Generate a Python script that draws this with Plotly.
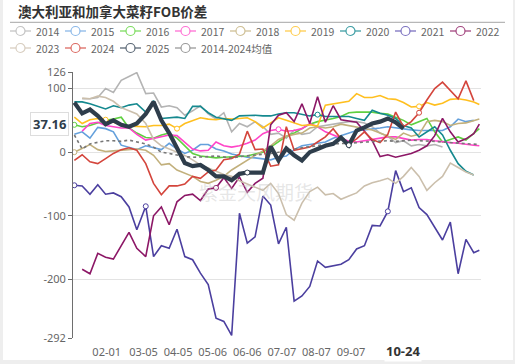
import plotly.graph_objects as go

# ---------------- data ----------------
WEEKS = ["01-03","01-10","01-17","01-24","01-31","02-07","02-14","02-21","02-28","03-07",
         "03-14","03-21","03-28","04-04","04-11","04-18","04-25","05-02","05-09","05-16",
         "05-23","05-30","06-06","06-13","06-20","06-27","07-04","07-11","07-18","07-25",
         "08-01","08-08","08-15","08-22","08-29","09-05","09-12","09-19","09-26","10-03",
         "10-10","10-17","10-24","10-31","11-07","11-14","11-21","11-28","12-05","12-12",
         "12-19","12-26","12-31"]

TICK_DATES = ["02-01","03-05","04-05","05-06","06-06","07-07","08-07","09-07","10-08","11-08"]
TICK_LABELS = ["02-01","03-05","04-05","05-06","06-06","07-07","08-07","09-07","",""]

N = None
Y2014 = [N,84,84,86,100,94,113,119,125,92,93,71,73,70,58,65,73,60,52,62,32,45,40,48,40,28,30,22,35,28,
         30,40,42,44,46,48,48,46,40,30,25,15,18,10,12,10,12,8,N,N,N,N,N]
Y2015 = [28,32,22,39,37,32,11,8,4,10,7,4,14,5,-2,3,12,12,5,2,-3,-6,-8,-9,-10,-12,-8,-6,4,10,
         12,14,16,22,26,30,34,35,36,38,40,38,36,35,34,34,34,34,40,52,48,50,N]
Y2016 = [43,40,42,46,50,52,55,38,30,23,22,27,30,22,10,-2,-6,-8,-9,-8,-7,-7,-6,-3,0,8,16,25,30,37,
         44,48,50,53,56,62,63,63,63,61,60,55,50,43,48,53,32,16,20,24,19,30,37]
Y2017 = [N,33,45,47,42,40,38,38,28,19,22,24,27,26,16,5,2,3,16,10,8,10,14,19,29,34,36,33,34,37,
         45,40,32,27,22,17,16,18,19,22,24,24,22,19,20,20,18,16,15,14,13,11,10]
Y2018 = [0,6,12,4,1,2,3,4,5,3,-5,-20,-18,-28,-33,-38,-46,-49,-44,-38,-28,-20,-12,-5,2,10,20,25,28,30,
         38,40,38,40,44,42,40,38,35,30,25,20,30,25,28,48,50,48,42,45,46,50,52]
Y2019 = [55,45,51,53,51,47,43,41,40,40,42,42,44,37,45,50,54,52,51,53,52,53,54,48,38,46,54,50,46,42,
         43,41,74,76,79,80,92,86,86,89,84,83,78,71,72,78,74,77,83,84,82,79,75]
Y2020 = [79,79,76,72,68,73,70,74,76,63,81,53,54,55,53,72,72,62,55,52,50,57,58,58,57,57,60,62,62,60,
         57,59,56,56,56,56,53,50,66,61,58,53,42,38,24,32,40,27,3,-18,-30,-36,N]
Y2021 = [-52,-53,-66,-51,-66,-64,-70,-86,-122,-85,-164,-147,-151,-121,-164,-169,-190,-208,-261,-266,
         -288,-96,-143,-133,-69,-83,-144,-118,-234,-226,-211,-171,-181,-179,-176,-169,-152,-147,-115,-116,
         -93,-29,-62,-56,-87,-98,-117,-138,-110,-191,-137,-158,-154]
Y2022 = [N,-184,-191,-159,-165,-168,-148,-126,-151,-164,-100,-86,-114,-78,-68,-66,-76,-58,-56,-40,
         -57,-39,-63,-49,-41,43,58,62,48,76,45,87,47,73,51,49,47,33,18,-7,-4,-8,-5,-2,3,10,26,53,32,16,
         21,29,44]
Y2023 = [N,85,84,88,86,80,70,65,60,45,20,10,5,0,-5,-12,-20,-25,-30,-35,-38,-45,-50,-55,-60,-49,-65,
         -98,-107,-80,-62,-55,-67,-65,-74,-69,-64,-53,-48,-45,-41,-49,-38,-24,-38,-60,-48,-38,-17,-24,
         -31,-36,N]
Y2024 = [-13,-4,-15,-18,-10,-2,4,7,3,-18,-49,-67,-53,-53,-50,-38,-41,-31,-28,-12,-10,-3,33,4,5,-22,-20,
         40,3,5,8,16,24,37,21,13,21,32,20,15,28,63,40,48,62,82,100,110,97,84,112,81,N]
Y2025 = [78,61,67,57,44,50,43,40,45,60,79,50,30,5,-17,-22,-20,-28,-38,-38,-44,-34,-32,-32,-32,9,-13,6,
         -5,-13,0,5,10,13,23,11,34,39,45,48,53,47,37.16]
YAVG = [27,5,13,16,18,18,17,19,16,13,8,0,-2,-5,-7,-8,-8,-7,-6,-8,-9,-7,-6,-5,-3,-2,0,3,5,7,9,10,12,
        13,13,14,15,16,17,18,18,17,18,19,18,18,17,16,15,14,13,13,12]

NAMES = ["2014","2015","2016","2017","2018","2019","2020","2021","2022","2023","2024","2025","2014-2024均值"]
VALUES = [Y2014,Y2015,Y2016,Y2017,Y2018,Y2019,Y2020,Y2021,Y2022,Y2023,Y2024,Y2025,YAVG]
COLORS = ["#b4b4b4","#64a0dc","#5fd040","#ff45c8","#c2b07c","#ffbf1f","#15898f","#4b3f9f",
          "#8c1766","#cbbfac","#d4453c","#2e3d4b","#777777"]
LEG_COLORS = ["#c4c4c4","#8bb8e8","#7ddc60","#ff70d4","#cfc096","#ffcd50","#3f9ea4","#7c72c0",
              "#a3467f","#d8cec0","#dc6a62","#5a6775","#9a9a9a"]
SYMBOLS = {"2016":[0],"2018":[0],"2019":[4,13,44],"2020":[31],"2021":[0,9,40],"2022":[18],
           "2017":[26],"2024":[44],"2025":[22,35]}

# ---------------- geometry helpers (pixel -> paper) ----------------
W, H = 515, 364
L, R, T, B = 73, 34, 72, 26
PW, PH = W - L - R, H - T - B
def px(x): return (x - L) / PW
def py(y): return (H - B - y) / PH

def xdate(md): return "2000-" + md

fig = go.Figure()
order = [0,1,2,3,4,5,6,7,8,9,10,12,11]
for i in order:
    name, vals, col = NAMES[i], VALUES[i], COLORS[i]
    xs = [xdate(d) for d in WEEKS[:len(vals)]]
    if name == "2025":
        line = dict(color=col, width=4.2)
    elif i == 12:
        line = dict(color=col, width=1.6, dash="dot")
    else:
        line = dict(color=col, width=1.6)
    fig.add_trace(go.Scatter(x=xs, y=vals, mode="lines", line=line, name=name,
                             connectgaps=False, showlegend=False, hoverinfo="skip"))
    if name in SYMBOLS:
        idx = SYMBOLS[name]
        fig.add_trace(go.Scatter(x=[xs[j] for j in idx], y=[vals[j] for j in idx], mode="markers",
                                 marker=dict(symbol="circle", size=5, color="white",
                                             line=dict(color=col, width=1)),
                                 showlegend=False, hoverinfo="skip"))

shapes = []
annotations = []
shapes.append(dict(type="rect", xref="paper", yref="paper", x0=px(3), x1=px(513), y0=py(0), y1=py(360),
                   fillcolor="white", line=dict(width=0), layer="below"))
annotations.append(dict(text="<b>澳大利亚和加拿大菜籽FOB价差</b>", xref="paper", yref="paper",
                        x=px(16), y=py(11), xanchor="left", yanchor="middle", showarrow=False,
                        font=dict(size=13.5, color="#333333", family="Noto Sans CJK SC")))
shapes.append(dict(type="line", xref="paper", yref="paper", x0=px(10), x1=px(505), y0=py(22.3), y1=py(22.3),
                   line=dict(color="#a6a6a6", width=1)))
for j, name in enumerate(NAMES):
    row, col = divmod(j, 9)
    x0 = 10 + 55 * col
    yc = 31 + 17 * row
    c = LEG_COLORS[j]
    shapes.append(dict(type="line", xref="paper", yref="paper", x0=px(x0), x1=px(x0 + 21),
                       y0=py(yc), y1=py(yc), line=dict(color=c, width=1.3)))
    shapes.append(dict(type="circle", xref="paper", yref="paper", x0=px(x0 + 6), x1=px(x0 + 15),
                       y0=py(yc - 4.5), y1=py(yc + 4.5), fillcolor="white", line=dict(color=c, width=1.2)))
    annotations.append(dict(text=name, xref="paper", yref="paper", x=px(x0 + 24), y=py(yc),
                            xanchor="left", yanchor="middle", showarrow=False,
                            font=dict(size=10.5, color="#666666", family="Noto Sans CJK SC")))
annotations.append(dict(text="紫金天风期货", xref="paper", yref="paper", x=px(256), y=py(191),
                        xanchor="center", yanchor="middle", showarrow=False,
                        font=dict(size=19, color="rgba(200,200,200,0.45)", family="Noto Sans CJK SC")))
annotations.append(dict(text="<b>37.16</b>", xref="paper", yref="paper", x=px(68.5), y=py(123.7),
                        xanchor="right", yanchor="middle", showarrow=False, bgcolor="white",
                        bordercolor="#dddddd", borderwidth=1, borderpad=2,
                        font=dict(size=13, color="#2e3d4b", family="Noto Sans")))
annotations.append(dict(text="<b>10-24</b>", xref="x", yref="paper", x=xdate("10-24"), y=py(351),
                        xanchor="center", yanchor="middle", showarrow=False, bgcolor="white",
                        font=dict(size=13, color="#333333", family="Noto Sans")))

tickvals = [xdate(t) for t in TICK_DATES]
xr = ["2000-01-01 19:00", "2001-01-01 12:00"]
YT = [-292, -200, -100, 0, 100, 126]
fig.update_layout(
    width=W, height=H, margin=dict(l=L, r=R, t=T, b=B, autoexpand=False),
    paper_bgcolor="#eeeeee", plot_bgcolor="white",
    font=dict(family="Noto Sans, Noto Sans CJK SC", size=11, color="#666666"),
    showlegend=False, shapes=shapes, annotations=annotations,
    xaxis=dict(type="date", range=xr, tickvals=tickvals, ticktext=TICK_LABELS, showgrid=False,
               zeroline=False, showline=False, ticks="", tickfont=dict(size=11, color="#666666"),
               ticklabelstandoff=6, automargin=False),
    xaxis2=dict(type="date", range=xr, overlaying="x", anchor="free", position=292/418, side="bottom",
                tickvals=tickvals, showticklabels=False, ticks="outside", ticklen=4, tickcolor="#6e6e6e",
                showline=True, linecolor="#6e6e6e", linewidth=1, showgrid=False, zeroline=False,
                automargin=False),
    yaxis=dict(range=[-292, 126], tickvals=YT, ticktext=[str(v) for v in YT], showgrid=True,
               gridcolor="#e3e3e3", zeroline=False, showline=True, linecolor="#6e6e6e",
               ticks="outside", ticklen=4, tickcolor="#6e6e6e", tickfont=dict(size=11, color="#666666"),
               automargin=False),
)
fig.write_html("out.html", config={"displayModeBar": False},
               post_script="document.body.style.margin='0';document.body.style.padding='0';")
